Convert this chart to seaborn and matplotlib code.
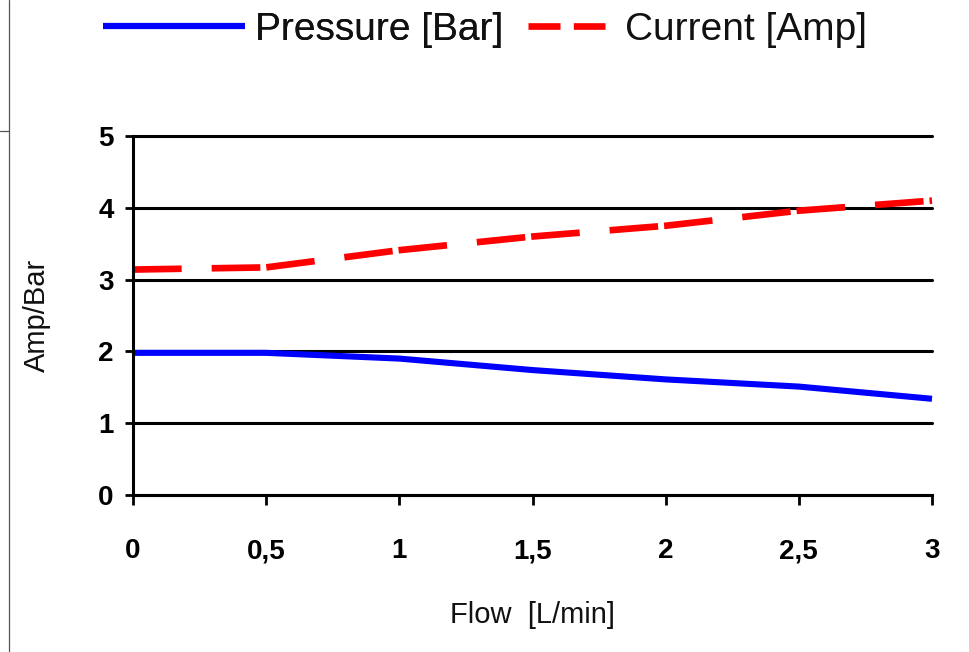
import matplotlib
matplotlib.use("Agg")
import matplotlib.pyplot as plt
import seaborn as sns
import pandas as pd
from matplotlib.lines import Line2D
from matplotlib import font_manager

# ---- data ----
flow = [0, 0.5, 1, 1.5, 2, 2.5, 3]
pressure = [1.98, 1.98, 1.90, 1.74, 1.61, 1.51, 1.34]
current = [3.14, 3.17, 3.41, 3.60, 3.75, 3.96, 4.10]
x_ticks = [0, 0.5, 1, 1.5, 2, 2.5, 3]
x_tick_labels = ["0", "0,5", "1", "1,5", "2", "2,5", "3"]
y_ticks = [0, 1, 2, 3, 4, 5]
y_tick_labels = ["0", "1", "2", "3", "4", "5"]
series_names = ["Pressure [Bar]", "Current [Amp]"]

sns.set_theme(style="white")
names = {f.name for f in font_manager.fontManager.ttflist}
fam = "Liberation Sans Narrow" if "Liberation Sans Narrow" in names else "Liberation Sans"
plt.rcParams['font.family'] = [fam, 'DejaVu Sans']

W, H = 969, 652
fig = plt.figure(figsize=(W / 100, H / 100), dpi=100)
left, right, top, bottom = 133, 932, 136, 495
ax = fig.add_axes([left / W, 1 - bottom / H, (right - left) / W, (bottom - top) / H])

df = pd.DataFrame({"Flow": flow, "Pressure": pressure, "Current": current})

lw_p = 4.4
lw_c = 4.8
sns.lineplot(data=df, x="Flow", y="Pressure", ax=ax, color="#0000ff",
             linewidth=lw_p, legend=False)
sns.lineplot(data=df, x="Flow", y="Current", ax=ax, color="#ff0000",
             linewidth=lw_c, legend=False)
cur_line = ax.lines[1]
cur_line.set_dashes([7.3, 4.5, 7.3, 0.9])
for ln in ax.lines:
    ln.set_solid_capstyle("butt")
    ln.set_dash_capstyle("butt")
    ln.set_clip_on(False)

ax.set_xlim(0, 3)
ax.set_ylim(0, 5)
ax.set_xticks(x_ticks)
ax.set_xticklabels(x_tick_labels)
ax.set_yticks(y_ticks)
ax.set_yticklabels(y_tick_labels)

ax.yaxis.grid(True, color="black", linewidth=2.2)
ax.xaxis.grid(False)
for gl in ax.get_ygridlines():
    gl.set_clip_on(False)
ax.set_axisbelow(True)

for s in ["top", "right"]:
    ax.spines[s].set_visible(False)
for s in ["left", "bottom"]:
    ax.spines[s].set_color("black")
    ax.spines[s].set_linewidth(2.2)

ax.tick_params(axis="y", which="major", direction="inout", length=12, width=2.0,
               color="black", left=True, pad=8)
ax.tick_params(axis="x", which="major", direction="out", length=7, width=2.0,
               color="black", bottom=True, pad=24)
for lab in ax.get_xticklabels() + ax.get_yticklabels():
    lab.set_fontsize(20)
    lab.set_fontweight("bold")
    lab.set_color("black")

ax.set_xlabel("Flow  [L/min]", fontsize=21, color="#111111")
ax.set_ylabel("Amp/Bar", fontsize=21, color="#111111")
ax.xaxis.set_label_coords((533 - left) / (right - left), -(615 - bottom) / (bottom - top))
ax.yaxis.set_label_coords(-(left - 37) / (right - left), 0.5)
ax.xaxis.label.set_va("center")
ax.yaxis.label.set_va("center")

# legend: two entries with different handle lengths, as in the reference
fs = 28
fs_px = fs * 100 / 72
h_p = Line2D([], [], color="#0000ff", linewidth=lw_p, solid_capstyle="butt")
h_c = Line2D([], [], color="#ff0000", linewidth=lw_c, dashes=[4.8, 2.0], dash_capstyle="butt")
leg1 = fig.legend([h_p], [series_names[0]], loc="center left",
                  bbox_to_anchor=(103 / W, 1 - 30 / H), frameon=False, fontsize=fs,
                  handlelength=142 / fs_px, handletextpad=10 / fs_px,
                  borderpad=0, borderaxespad=0, labelcolor="#111111")
leg2 = fig.legend([h_c], [series_names[1]], loc="center left",
                  bbox_to_anchor=(528 / W, 1 - 30 / H), frameon=False, fontsize=fs,
                  handlelength=77 / fs_px, handletextpad=20 / fs_px,
                  borderpad=0, borderaxespad=0, labelcolor="#111111")
fig.add_artist(leg1)

# cropped-screenshot border fragments
fig.add_artist(Line2D([9 / W, 9 / W], [0, 1], transform=fig.transFigure,
                      color="#555555", linewidth=0.9))
fig.add_artist(Line2D([0, 9 / W], [1 - 131 / H, 1 - 131 / H], transform=fig.transFigure,
                      color="#555555", linewidth=0.9))

fig.savefig("out.png", dpi=100, facecolor="white")
